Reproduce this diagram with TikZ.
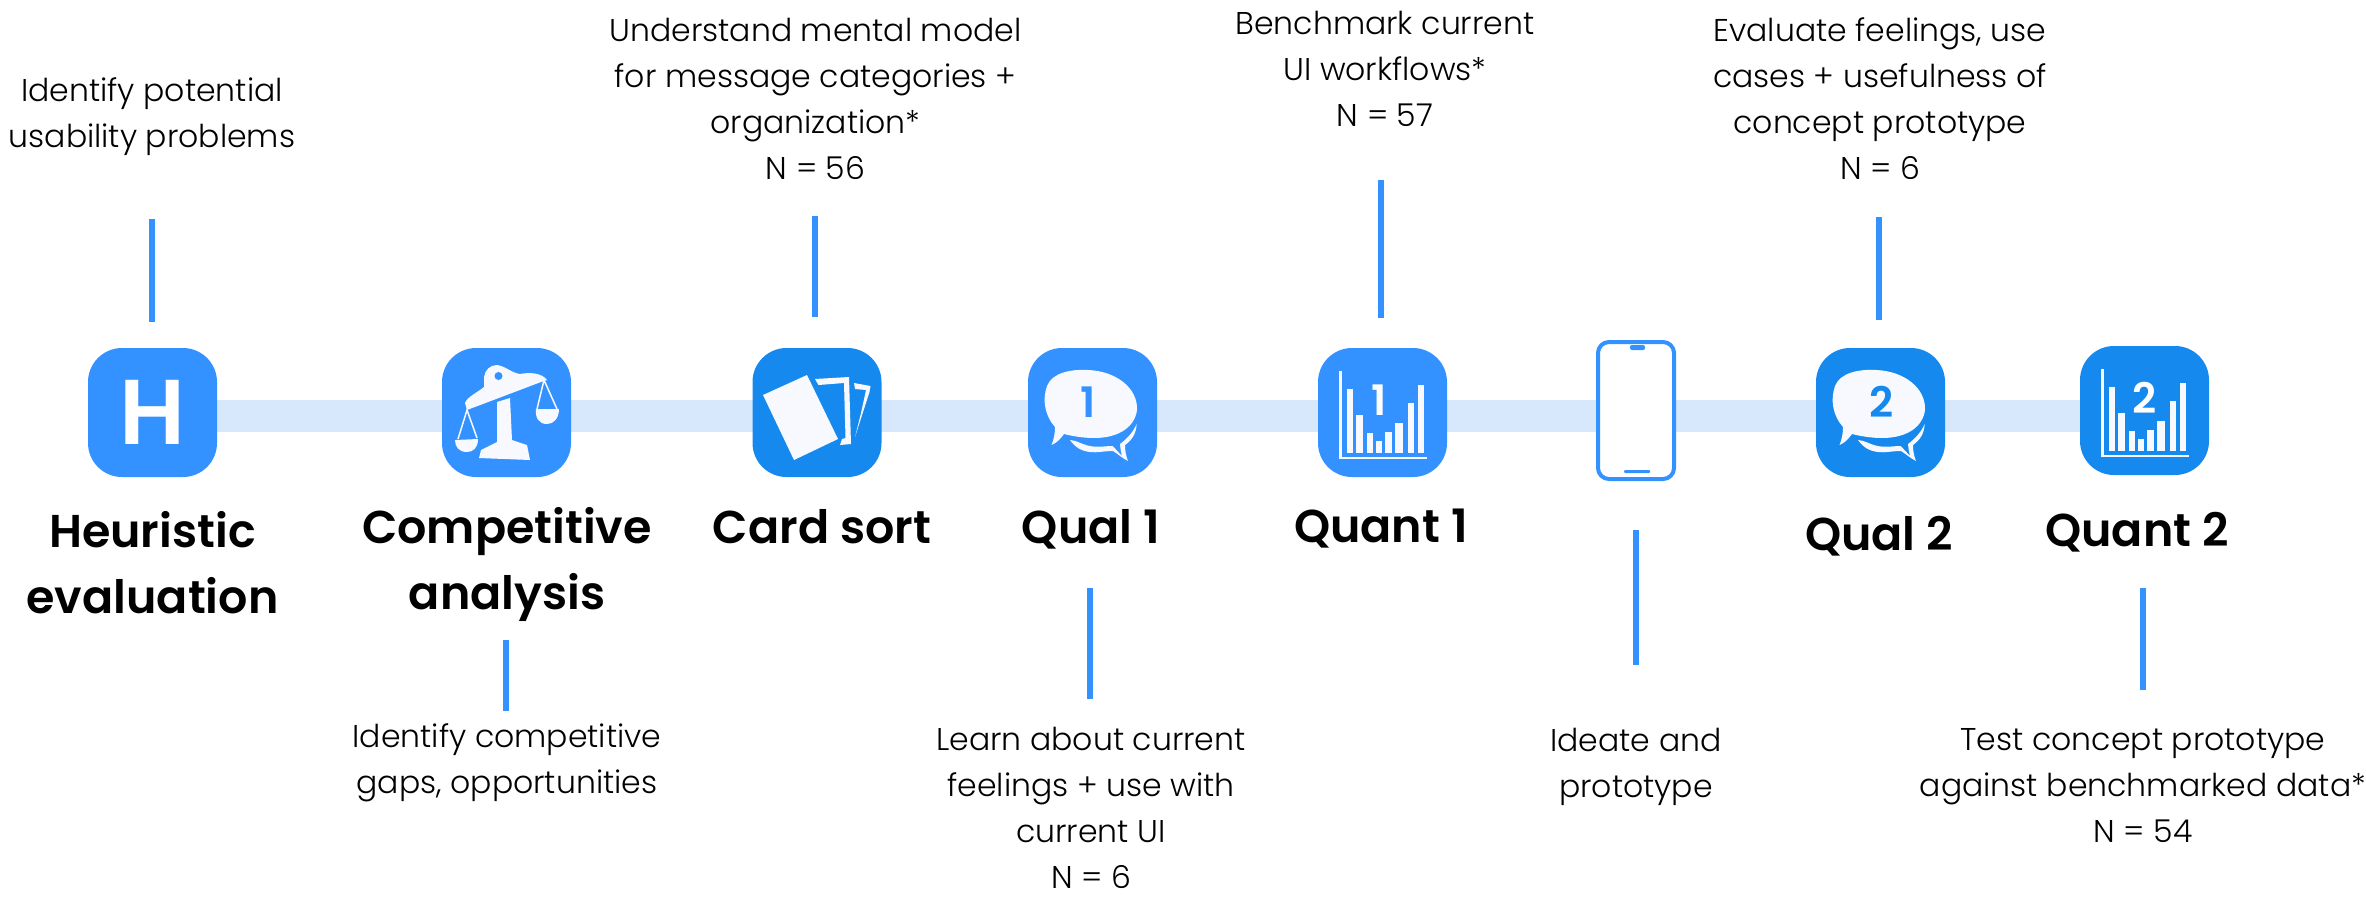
\documentclass[tikz,border=0pt]{standalone}
\usepackage{fontspec}
\setmainfont{Poppins Light}
\newfontfamily\headfont{Poppins SemiBold}
\usetikzlibrary{positioning,calc,backgrounds}

\definecolor{iconblue}{HTML}{3392FF}
\definecolor{icondeep}{HTML}{1589EE}
\definecolor{barblue}{HTML}{D7E8FD}
\definecolor{glyphwhite}{HTML}{F7F9FF}

% Bubble on an icon, #1 = icon name, #2 = digit, #3 = digit colour, #4 = digit x
\newcommand{\chatglyph}[4]{
    \begin{scope}[shift={(#1.north west)}]
        \fill[glyphwhite] (27,79) .. controls (17,68) and (14,52) .. (19,38)
            .. controls (24,25) and (42,21) .. (60,22)
            .. controls (88,23) and (110,40) .. (109,62)
            .. controls (107,78) and (92,90) .. (66,90)
            .. controls (55,90) and (44,88) .. (36,86)
            .. controls (33,90) and (29,95) .. (23.5,97)
            .. controls (26,91) and (27,85) .. (27,79) -- cycle;
        \fill[glyphwhite] (42,92) .. controls (49,92) and (55,98) .. (67,98.7)
            .. controls (73,99) and (79,98) .. (84.7,98)
            -- (94,108) .. controls (93,103) and (92,100) .. (92,96)
            .. controls (100,90) and (105,84) .. (108.7,76)
            .. controls (108,86) and (104,92) .. (97,97)
            .. controls (97,103) and (98,108) .. (100,113)
            .. controls (94,110) and (90,106) .. (85,103)
            .. controls (76,103) and (68,105) .. (62,104)
            .. controls (53,103) and (47,99) .. (42,92) -- cycle;
        \node[font=\headfont\fontsize{42}{42}\selectfont, color=#3] (#1digit) at (#4,54) {#2};
    \end{scope}
}

% Bar chart on an icon, #1 = icon name, #2 = digit, #3 = digit x
\newcommand{\chartglyph}[3]{
    \begin{scope}[shift={(#1.north west)}]
        \fill[glyphwhite] (21,23) rectangle (23.5,111);
        \fill[glyphwhite] (21,108.7) rectangle (108.7,111.3);
        \foreach \xa/\xb/\ytop in {28.5/35/41, 38/44.5/67, 49/54.6/84.7, 58/64.3/92.7,
                67.3/74/84, 77/85/75.3, 90/96/55, 100/106/37}{
            \fill[glyphwhite] (\xa,\ytop) rectangle (\xb,105.3);
        }
        \node[font=\headfont\fontsize{42}{42}\selectfont, color=white] (#1digit) at (#3,52) {#2};
    \end{scope}
}

\begin{document}
\begin{tikzpicture}[x=1pt, y=-1pt,
        % Rounded square for each step
        iconbox/.style={fill=#1, rounded corners=34pt, minimum size=129pt, inner sep=0pt, outer sep=0pt},
        iconbox/.default=iconblue,
        % Thin line from a step to its note
        stalk/.style={draw=iconblue, line width=6pt},
        % Texts
        headlabel/.style={align=center, inner sep=0pt, font=\headfont\fontsize{46}{66}\selectfont},
        notelabel/.style={align=center, inner sep=0pt, font=\fontsize{31.5}{46}\selectfont, color=black}
    ]
    \useasboundingbox (0,0) rectangle (2366,898);

    % --- icons ---
    \node[iconbox, font=\headfont\fontsize{92}{92}\selectfont, text=white] (iconH) at (152.5,412.5) {H};
    \node[iconbox] (iconScale) at (506.5,412.5) {};
    \node[iconbox=icondeep] (iconCard) at (817,412.5) {};
    \node[iconbox] (iconQualA) at (1092.5,412.5) {};
    \node[iconbox] (iconQuantA) at (1382.5,412.5) {};
    \node[draw=iconblue, fill=white, line width=4pt, rounded corners=11pt, minimum width=76pt,
        minimum height=137pt, inner sep=0pt] (iconPhone) at (1636,410.5) {};
    \node[iconbox=icondeep] (iconQualB) at (1880.5,412.5) {};
    \node[iconbox=icondeep] (iconQuantB) at (2144.5,410.5) {};

    % --- band behind the icons ---
    \begin{scope}[on background layer]
        \draw[barblue, line width=32pt] ($(iconH.center)+(0,3.5)$) -- ($(iconQuantB.center)+(0,5.5)$);
    \end{scope}

    % --- scale ---
    \fill[glyphwhite] (467,410) -- (465,403) .. controls (467,397) and (478,392) .. (484,387)
        -- (484,377) .. controls (485,370) and (490,365) .. (497,365)
        .. controls (505,366) and (512,373) .. (520,374) .. controls (530,372) and (542,373) .. (547,380)
        -- (541,382) -- cycle;
    \fill[iconblue] (498.5,376) circle (4);
    \fill[glyphwhite] (497,402) -- (510,398) -- (512,440) -- (527,445) -- (530,460) -- (479,458)
        -- (481,450) -- (497,442) -- cycle;
    \draw[glyphwhite, line width=1.5pt] (458,439) -- (467,410) -- (477,438);
    \fill[glyphwhite] (455,440) -- (478,439) .. controls (478,448) and (473,452) .. (467,452)
        .. controls (459,452) and (455,447) .. (455,440) -- cycle;
    \draw[glyphwhite, line width=1.5pt] (537,409) -- (544,380) -- (557,409);
    \fill[glyphwhite] (536,409) -- (559,409) .. controls (559,418) and (554,424) .. (547,424)
        .. controls (539,424) and (535,418) .. (536,409) -- cycle;

    % --- cards ---
    \fill[glyphwhite] (807,375) -- (838,439) -- (794,460) -- (763,395) -- cycle;
    \fill[glyphwhite] (815,379) -- (849,377) -- (851,444) -- (840,445) -- (842,439) -- (845.5,438)
        -- (844,383) -- (818.5,385) -- cycle;
    \fill[glyphwhite] (854,383) -- (870.5,386) -- (869.5,392) -- (855,437) -- (861,413)
        -- (866,390) -- (855,389) -- cycle;

    \chatglyph{iconQualA}{1}{iconblue}{60}
    \chartglyph{iconQuantA}{1}{61}
    \chatglyph{iconQualB}{2}{icondeep}{65.5}
    \chartglyph{iconQuantB}{2}{65}

    % --- phone details ---
    \fill[iconblue, rounded corners=2pt] (1630,345) rectangle (1645,350);
    \fill[iconblue, rounded corners=1pt] (1624,470) rectangle (1650,473);

    % --- step names ---
    \node[headlabel] (nameH) at (152.5,563) {Heuristic\\evaluation};
    \node[headlabel] (nameScale) at (507,564) {Competitive\\analysis};
    \node[headlabel] (nameCard) at (822,527) {Card sort};
    \node[headlabel] (nameQualA) at (1091,529) {Qual 1};
    \node[headlabel] (nameQuantA) at (1381,529) {Quant 1};
    \node[headlabel] (nameQualB) at (1879,536) {Qual 2};
    \node[headlabel] (nameQuantB) at (2137,532) {Quant 2};

    % --- notes ---
    \node[notelabel] (noteH) at (152,117) {Identify potential\\usability problems};
    \node[notelabel] (noteCard) at (815.5,99) {Understand mental model\\for message categories +\\organization*\\N = 56};
    \node[notelabel] (noteQuantA) at (1385,69) {Benchmark current\\UI workflows*\\N = 57};
    \node[notelabel] (noteQualB) at (1880,99) {Evaluate feelings, use\\cases + usefulness of\\concept prototype\\N = 6};
    \node[notelabel] (noteScale) at (507,763) {Identify competitive\\gaps, opportunities};
    \node[notelabel] (noteQualA) at (1091,808) {Learn about current\\feelings + use with\\current UI\\N = 6};
    \node[notelabel] (notePhone) at (1636,767) {Ideate and\\prototype};
    \node[notelabel] (noteQuantB) at (2143,786) {Test concept prototype\\against benchmarked data*\\N = 54};

    % --- stalks ---
    \coordinate (stalkHa) at (152,219);   \coordinate (stalkHb) at (152,322);
    \coordinate (stalkCa) at (815,216);   \coordinate (stalkCb) at (815,317);
    \coordinate (stalkQa) at (1381,180);  \coordinate (stalkQb) at (1381,318);
    \coordinate (stalkEa) at (1879,217);  \coordinate (stalkEb) at (1879,320);
    \coordinate (stalkSa) at (506,640);   \coordinate (stalkSb) at (506,711);
    \coordinate (stalkLa) at (1090,588);  \coordinate (stalkLb) at (1090,699);
    \coordinate (stalkPa) at (1636,530);  \coordinate (stalkPb) at (1636,665);
    \coordinate (stalkTa) at (2143,588);  \coordinate (stalkTb) at (2143,690);
    \foreach \s in {H,C,Q,E,S,L,P,T}{
        \draw[stalk] (stalk\s a) -- (stalk\s b);
    }
\end{tikzpicture}
\end{document}
